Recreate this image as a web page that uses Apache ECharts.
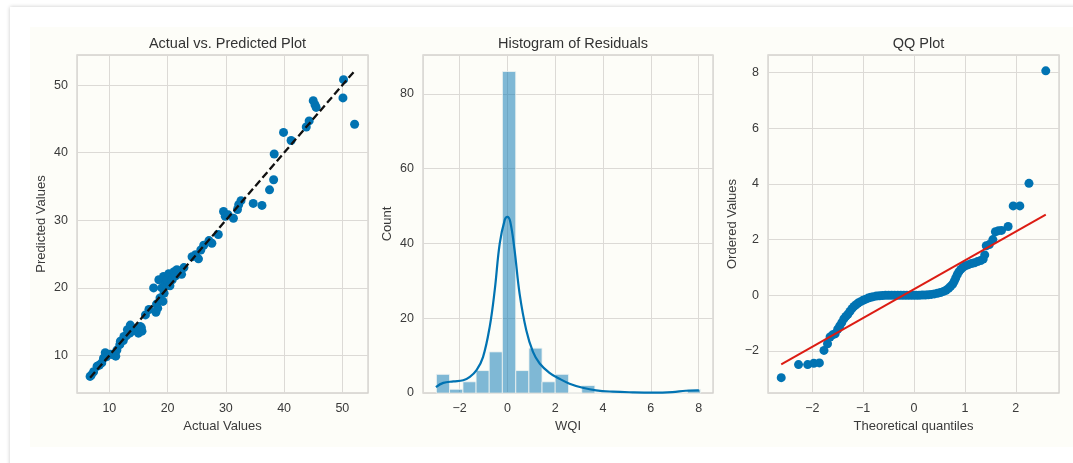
<!DOCTYPE html>
<html><head><meta charset="utf-8">
<script src="https://cdn.jsdelivr.net/npm/echarts@6/dist/echarts.min.js"></script>
<style>
html,body{margin:0;padding:0;background:#fff;width:1073px;height:463px;overflow:hidden}
#card{position:absolute;left:10px;top:7px;width:1090px;height:480px;background:#fff;box-shadow:0 0 4px rgba(0,0,0,0.22)}
#fig{position:absolute;left:30px;top:27px;width:1043px;height:420px;background:#fdfdf8}
#chart{position:absolute;left:0;top:0;width:1073px;height:463px}
</style></head><body>
<div id="card"></div><div id="fig"></div><div id="chart"></div>
<script>
// ---- Panel 1: Actual vs Predicted ----
const actualValues = [6.7,6.9,7.3,7.9,8.3,8.7,9.0,9.3,9.5,10.2,10.7,11.1,11.3,11.8,11.9,12.4,12.5,12.9,13.1,13.5,13.6,13.9,14.3,14.8,15.0,15.3,15.6,15.5,16.2,16.8,17.6,18.0,18.1,18.3,18.5,18.7,19.0,19.2,19.3,19.4,19.6,19.9,20.2,20.4,20.8,21.1,21.4,21.6,22.4,22.8,24.2,24.8,25.3,25.7,26.2,27.1,27.6,
  28.7,29.6,29.9,30.4,31.3,32.0,32.2,32.6,34.7,36.2,37.5,38.2,38.3,39.9,41.2,43.8,44.3,45.0,45.3,45.5,50.2,50.1,52.1];
const predictedValues = [6.9,7.1,7.6,8.4,8.6,8.9,9.6,10.4,9.8,10.2,10.1,9.9,10.8,11.6,12.1,12.2,12.8,12.9,13.8,13.3,14.5,13.6,14.0,13.8,13.3,14.3,13.6,14.1,16.0,16.8,20.0,16.4,17.6,17.0,21.2,18.5,20.0,18.0,21.7,19.2,20.5,21.2,22.1,20.3,21.2,22.4,21.8,22.7,22.0,23.0,24.6,24.9,24.3,25.6,26.3,27.0,26.6,
  27.9,31.3,30.6,30.8,30.3,31.6,32.3,32.9,32.5,32.2,34.5,36.0,39.8,43.0,41.8,43.8,44.7,47.7,47.1,46.7,50.8,48.1,44.2];

// ---- Panel 2: Histogram of residuals ----
const histBinEdges = [-2.97,-2.42,-1.86,-1.31,-0.76,-0.21,0.35,0.90,1.45,2.00,2.56,3.11,3.66,4.21,4.77,5.32,5.87,6.42,6.97,7.53,8.08];
const histCounts = [5,1,3,6,11,86,6,12,3,5,0,2,0,0,0,0,0,0,0,1];
const kdeX = [-2.99,-2.68,-2.26,-1.85,-1.57,-1.29,-1.02,-0.74,-0.53,-0.32,-0.11,0.0,0.12,0.30,0.51,0.79,1.07,1.35,1.76,2.18,2.60,3.15,3.71,4.40,5.24,6.07,6.90,7.46,8.01];
const kdeY = [1.6,2.7,3.1,3.4,4.3,6.1,9.6,17.7,27.5,40.0,46.3,47.1,45.8,38.2,26.6,16.8,11.0,7.9,5.4,3.8,2.5,1.4,0.7,0.36,0.18,0.1,0.25,0.6,0.7];

// ---- Panel 3: QQ plot ----
const qqTheoretical = [-2.61,-2.27,-2.09,-1.97,-1.86,-1.77,-1.70,-1.65,-1.60,-1.55,-1.50,-1.46,-1.42,-1.38,-1.34,-1.30,-1.26,-1.22,-1.18,-1.14,-1.10,-1.05,-1.00,-0.95,-0.90,-0.85,-0.80,-0.74,-0.68,-0.62,-0.56,-0.50,-0.44,-0.38,-0.32,-0.26,-0.20,-0.14,-0.08,-0.02,0.04,0.10,0.16,0.22,0.28,0.34,0.40,0.46,0.52,0.58,0.63,0.68,0.72,0.76,0.79,0.82,0.85,0.88,0.92,0.96,1.01,1.07,1.13,1.19,1.25,1.31,1.36,1.39,1.42,1.48,1.55,1.60,1.66,1.72,1.85,1.95,2.08,2.26,2.59];
const qqOrdered = [-2.96,-2.49,-2.49,-2.44,-2.43,-1.98,-1.74,-1.50,-1.42,-1.38,-1.22,-1.10,-0.98,-0.85,-0.76,-0.68,-0.58,-0.48,-0.40,-0.34,-0.28,-0.23,-0.18,-0.14,-0.10,-0.07,-0.05,-0.03,-0.02,-0.01,0.00,0.00,0.00,0.00,0.00,0.00,0.00,0.00,0.00,0.00,0.00,0.00,0.01,0.01,0.02,0.03,0.05,0.07,0.10,0.14,0.18,0.25,0.32,0.40,0.50,0.62,0.74,0.84,0.93,1.00,1.06,1.10,1.14,1.17,1.21,1.25,1.30,1.45,1.78,1.82,2.00,2.28,2.32,2.33,2.47,3.21,3.21,4.02,8.06];
const qqFitX = [-2.61, 2.59];
const qqFitY = [-2.48, 2.90];

const titles = ['Actual vs. Predicted Plot', 'Histogram of Residuals', 'QQ Plot'];
const xNames = ['Actual Values', 'WQI', 'Theoretical quantiles'];
const yNames = ['Predicted Values', 'Count', 'Ordered Values'];

const BLUE = '#0173b2';
const TXT = '#3a3a3a';
const GRIDC = '#dcdad6';
const FONT = '"Liberation Sans", Arial, sans-serif';

const grids = [
  {left: 77, top: 55, width: 291, height: 338},
  {left: 423, top: 55, width: 290, height: 338},
  {left: 768, top: 55, width: 291, height: 338}
];
const xr = [[4.45, 54.4], [-3.53, 8.6], [-2.87, 2.85]];
const yr = [[4.45, 54.45], [0, 90.4], [-3.51, 8.63]];

const chart = echarts.init(document.getElementById('chart'), null, {renderer: 'canvas'});

const lo = Math.min(...actualValues), hi = Math.max(...actualValues);

const option = {
  animation: false,
  backgroundColor: 'transparent',
  textStyle: {fontFamily: FONT},
  title: grids.map((g, i) => ({
    text: titles[i], left: g.left + g.width / 2, top: 31, textAlign: 'center',
    textStyle: {fontSize: 14.5, fontWeight: 'normal', color: '#333', fontFamily: FONT}
  })),
  grid: grids.map(g => Object.assign({show: true, borderColor: '#d3d1cd', borderWidth: 1.3, backgroundColor: 'transparent', containLabel: false}, g)),
  xAxis: grids.map((g, i) => ({
    type: 'value', gridIndex: i, min: xr[i][0], max: xr[i][1], splitNumber: 5,
    axisLine: {show: false}, axisTick: {show: false},
    axisLabel: {color: TXT, fontSize: 12.5, margin: 9, showMinLabel: false, showMaxLabel: false, fontFamily: FONT,
      formatter: v => (v < 0 ? '\u2212' + Math.abs(v) : String(v))},
    splitLine: {show: true, lineStyle: {color: GRIDC, width: 1}},
    name: xNames[i], nameLocation: 'middle', nameGap: 27,
    nameTextStyle: {color: TXT, fontSize: 13, fontFamily: FONT}
  })),
  yAxis: grids.map((g, i) => ({
    type: 'value', gridIndex: i, min: yr[i][0], max: yr[i][1], splitNumber: 5,
    axisLine: {show: false}, axisTick: {show: false},
    axisLabel: {color: TXT, fontSize: 12.5, margin: 9, showMinLabel: i === 1, showMaxLabel: false, fontFamily: FONT,
      formatter: v => (v < 0 ? '\u2212' + Math.abs(v) : String(v))},
    splitLine: {show: true, lineStyle: {color: GRIDC, width: 1}},
    name: yNames[i], nameLocation: 'middle', nameGap: 29, nameRotate: 90,
    nameTextStyle: {color: TXT, fontSize: 13, fontFamily: FONT}
  })),
  series: [
    {
      type: 'scatter', xAxisIndex: 0, yAxisIndex: 0, symbolSize: 9,
      itemStyle: {color: BLUE, opacity: 1},
      data: actualValues.map((a, k) => [a, predictedValues[k]]), z: 2
    },
    {
      type: 'line', xAxisIndex: 0, yAxisIndex: 0, showSymbol: false, symbol: 'none',
      lineStyle: {color: '#111', width: 2.3, type: [7.5, 3.5]},
      data: [[lo, lo], [hi, hi]], z: 3
    },
    {
      type: 'custom', xAxisIndex: 1, yAxisIndex: 1,
      data: histCounts.map((c, k) => [histBinEdges[k], histBinEdges[k + 1], c]),
      encode: {x: [0, 1], y: 2},
      renderItem: (params, api) => {
        const p0 = api.coord([api.value(0), api.value(2)]);
        const p1 = api.coord([api.value(1), 0]);
        return {
          type: 'rect',
          shape: {x: p0[0], y: p0[1], width: p1[0] - p0[0], height: p1[1] - p0[1]},
          style: {fill: 'rgba(1,115,178,0.5)', stroke: '#f4f6f2', lineWidth: 0.8}
        };
      }, z: 2
    },
    {
      type: 'line', xAxisIndex: 1, yAxisIndex: 1, smooth: 0.4, showSymbol: false, symbol: 'none',
      lineStyle: {color: BLUE, width: 2.2},
      data: kdeX.map((x, k) => [x, kdeY[k]]), z: 3
    },
    {
      type: 'scatter', xAxisIndex: 2, yAxisIndex: 2, symbolSize: 9,
      itemStyle: {color: BLUE, opacity: 1},
      data: qqTheoretical.map((x, k) => [x, qqOrdered[k]]), z: 2
    },
    {
      type: 'line', xAxisIndex: 2, yAxisIndex: 2, showSymbol: false, symbol: 'none',
      lineStyle: {color: '#dc1c13', width: 2},
      data: qqFitX.map((x, k) => [x, qqFitY[k]]), z: 3
    }
  ]
};
chart.setOption(option);
</script>
</body></html>
